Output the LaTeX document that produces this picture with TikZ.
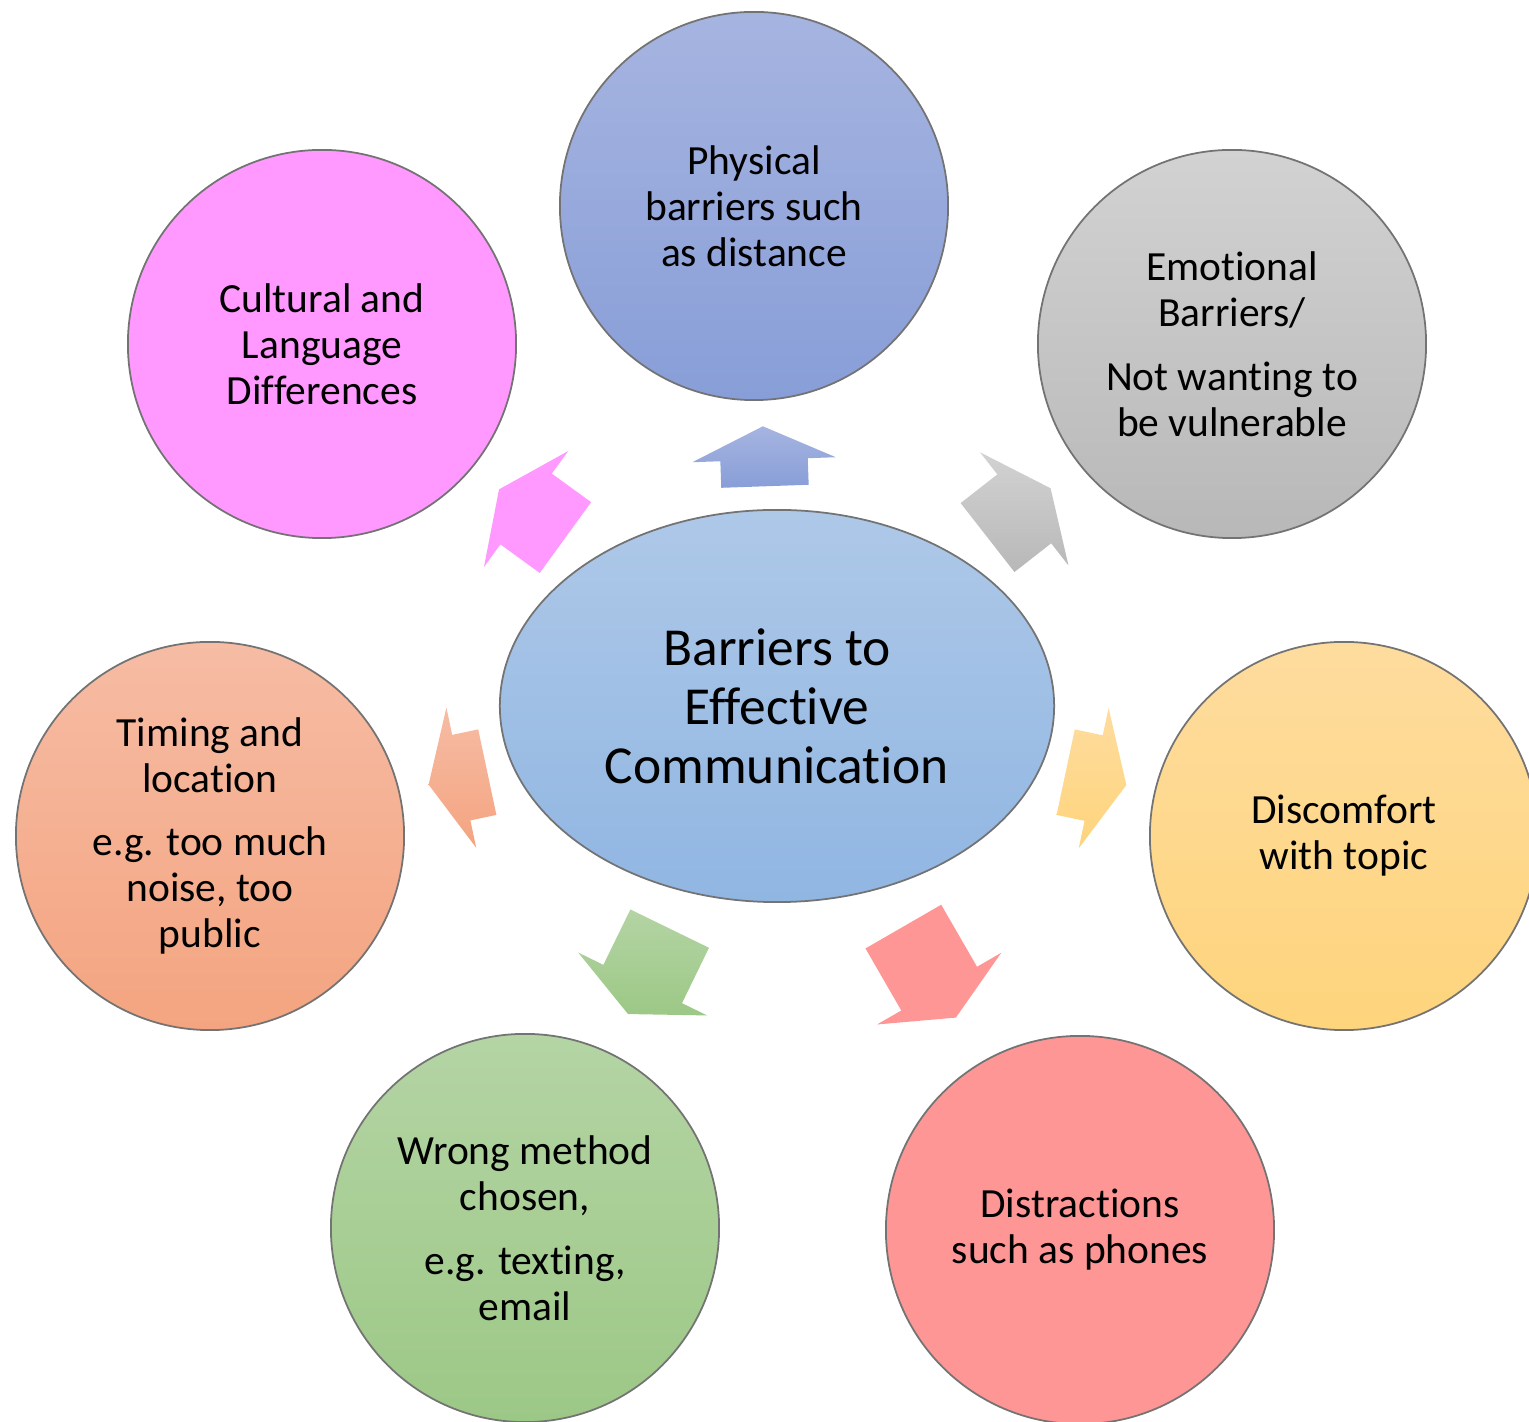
\documentclass[tikz,border=0pt]{standalone}
\usepackage{fontspec}
\setmainfont{Carlito}[Ligatures=NoCommon]
\usetikzlibrary{shapes.arrows, shapes.geometric}

\begin{document}
\begin{tikzpicture}[x=0.01cm, y=-0.01cm, align=center,
    bubble/.style={circle, draw=black!55, line width=0.5pt, minimum size=3.88cm, inner sep=0pt, font=\fontsize{11.8}{13.1}\selectfont},
    blockarrow/.style={single arrow, anchor=tail, inner xsep=0pt, inner ysep=0.43cm, single arrow head extend=0.28cm, single arrow tip angle=130}]
    % Define colors
    \definecolor{physTop}{HTML}{A6B4E0}
    \definecolor{physBot}{HTML}{889ED8}
    \definecolor{mainTop}{HTML}{AEC8E8}
    \definecolor{mainBot}{HTML}{90B6E2}
    \definecolor{cultFill}{HTML}{FF99FF}
    \definecolor{emoTop}{HTML}{D2D2D2}
    \definecolor{emoBot}{HTML}{B8B8B8}
    \definecolor{timeTop}{HTML}{F6BCA4}
    \definecolor{timeBot}{HTML}{F4A480}
    \definecolor{discTop}{HTML}{FEDC9E}
    \definecolor{discBot}{HTML}{FED47C}
    \definecolor{wrongTop}{HTML}{B4D4A4}
    \definecolor{wrongBot}{HTML}{9CC886}
    \definecolor{distFill}{HTML}{FF9696}

    \useasboundingbox (0,0) rectangle (1529,1422);
    \clip (0,0) rectangle (1529,1422);

    % Centre
    \node[ellipse, draw=black!55, line width=0.5pt, minimum width=5.54cm, minimum height=3.92cm, top color=mainTop, bottom color=mainBot, font=\fontsize{15.2}{16.8}\selectfont] (centre) at (777,706) {Barriers to\\Effective\\Communication};

    % Bubbles
    \node[bubble, top color=physTop, bottom color=physBot] (physical) at (754,206) {Physical\\barriers such\\as distance};
    \node[bubble, fill=cultFill] (cultural) at (322,344) {Cultural and\\Language\\Differences};
    \node[bubble, top color=emoTop, bottom color=emoBot] (emotional) at (1232,344) {Emotional\\Barriers/\\[5pt]Not wanting to\\be vulnerable};
    \node[bubble, top color=timeTop, bottom color=timeBot] (timing) at (210,836) {Timing and\\location\\[5pt]e.g. too much\\noise, too\\public};
    \node[bubble, top color=discTop, bottom color=discBot] (discomfort) at (1344,836) {Discomfort\\with topic};
    \node[bubble, top color=wrongTop, bottom color=wrongBot] (wrong) at (525,1228) {Wrong method\\chosen,\\[5pt]e.g. texting,\\email};
    \node[bubble, fill=distFill] (distraction) at (1080,1230) {Distractions\\such as phones};

    % Arrows
    \node[blockarrow, minimum height=0.6cm, rotate=92, top color=physTop, bottom color=physBot] (toPhysical) at (765,487) {};
    \node[blockarrow, minimum height=0.82cm, rotate=144, fill=cultFill] (toCultural) at (566,538) {};
    \node[blockarrow, minimum height=0.8cm, rotate=38, top color=emoTop, bottom color=emoBot] (toEmotional) at (987,538) {};
    \node[blockarrow, minimum height=0.6cm, rotate=192, top color=timeTop, bottom color=timeBot] (toTiming) at (488,772) {};
    \node[blockarrow, minimum height=0.62cm, rotate=-12, top color=discTop, bottom color=discBot] (toDiscomfort) at (1065,772) {};
    \node[blockarrow, minimum height=0.95cm, rotate=244, top color=wrongTop, bottom color=wrongBot] (toWrong) at (670,928) {};
    \node[blockarrow, minimum height=1.05cm, rotate=-60, fill=distFill] (toDistraction) at (903,926) {};
\end{tikzpicture}
\end{document}
